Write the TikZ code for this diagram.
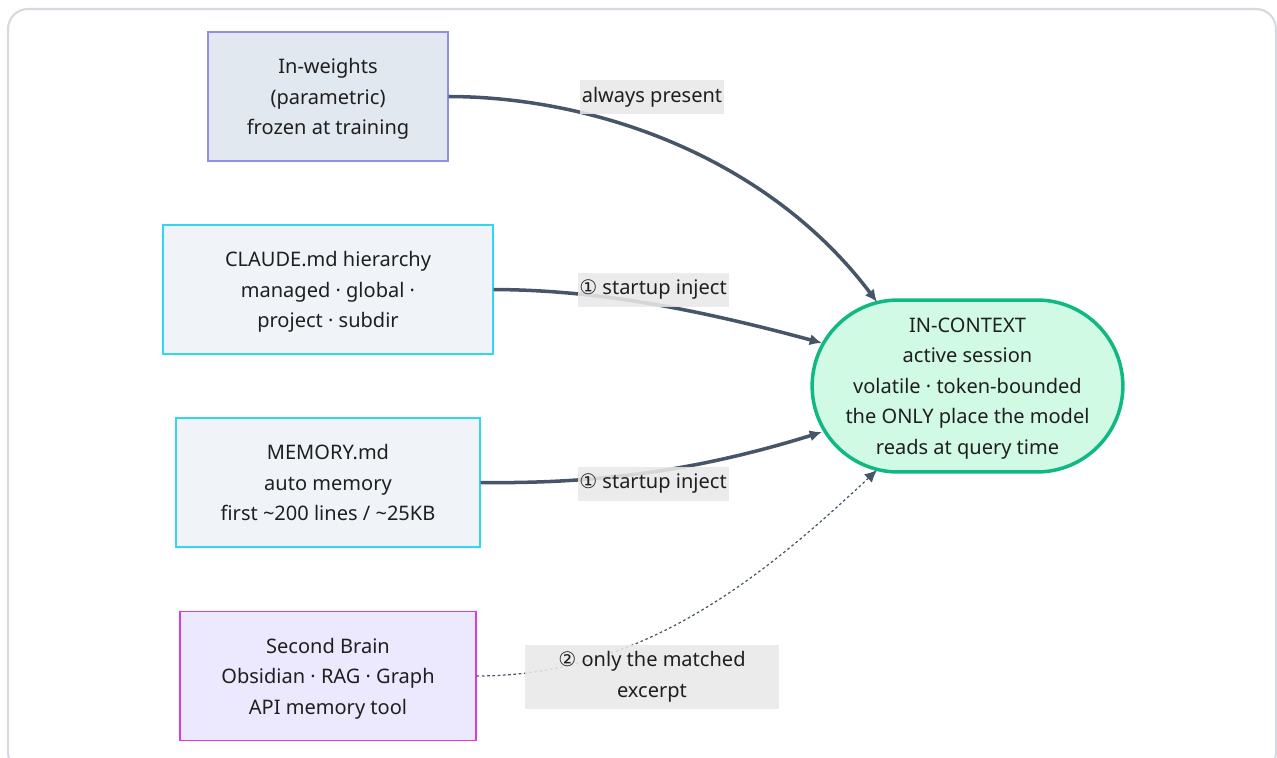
\documentclass[tikz,border=0pt]{standalone}
\usepackage{fontspec}
\setmainfont{Noto Sans}
\newfontfamily\circfont{DejaVu Sans}
\usetikzlibrary{arrows.meta,shapes.misc,calc}
\definecolor{edgec}{HTML}{475569}
\definecolor{txt}{HTML}{1F1F1F}
\definecolor{framec}{HTML}{D5D9E0}
\definecolor{inwfill}{HTML}{E2E8F0}
\definecolor{inwline}{HTML}{8F8FE8}
\definecolor{mdfill}{HTML}{F0F4F9}
\definecolor{mdline}{HTML}{30D6F2}
\definecolor{sbfill}{HTML}{ECE8FD}
\definecolor{sbline}{HTML}{D83BE6}
\definecolor{ctxfill}{HTML}{D1FAE5}
\definecolor{ctxline}{HTML}{10B981}
\definecolor{lblbg}{HTML}{E8E8E8}
\newcommand{\circnum}[1]{{\circfont #1}}

\begin{document}
\begin{tikzpicture}[x=0.02cm, y=-0.02cm, >={Latex[length=7pt,width=6.5pt]},
    font=\fontsize{11.4}{17.4}\selectfont,
    box/.style={draw, line width=0.7pt, align=center, minimum height=2.58cm, text=txt, text depth=0pt},
    lbl/.style={fill=lblbg, fill opacity=0.88, text opacity=1, inner xsep=1pt, inner ysep=4pt, text=txt},
    feed/.style={->, edgec, line width=2pt}]
  \useasboundingbox (0,0) rectangle (1277,757);
  \clip (0,0) rectangle (1277,757);
  % Rahmen
  \draw[framec, line width=1.2pt, rounded corners=0.4cm] (8,9) rectangle (1276,772);
  % Quellen
  \node[box, fill=inwfill, draw=inwline, minimum width=4.8cm] (inw) at (328,96.5)
      {In-weights\\(parametric)\\frozen at training};
  \node[box, fill=mdfill, draw=mdline, minimum width=6.6cm] (claude) at (328,289.5)
      {CLAUDE.md hierarchy\\managed · global ·\\project · subdir};
  \node[box, fill=mdfill, draw=mdline, minimum width=6.08cm] (memory) at (328,482.5)
      {MEMORY.md\\auto memory\\first \textasciitilde200 lines / \textasciitilde25KB};
  \node[box, fill=sbfill, draw=sbline, minimum width=5.92cm] (brain) at (328,676)
      {Second Brain\\Obsidian · RAG · Graph\\API memory tool};
  % Kontext
  \node[rounded rectangle, draw=ctxline, fill=ctxfill, line width=2pt, align=center, text=txt,
      text depth=-1pt, inner xsep=-0.3pt, minimum height=3.44cm] (ctx) at (967.5,386)
      {IN-CONTEXT\\active session\\volatile · token-bounded\\the ONLY place the model\\reads at query time};
  % Verbindungen
  \draw[feed] (inw.east) .. controls (600,97) and (770,160) .. ($(ctx.center)+(-90.5,-84)$);
  \draw[feed] (claude.east) .. controls (600,290) and (700,310) .. ($(ctx.center)+(-145.5,-43)$);
  \draw[feed] (memory.east) .. controls (600,484) and (700,470) .. ($(ctx.center)+(-145.5,46)$);
  \draw[->, edgec, line width=0.7pt, dash pattern=on 1.5pt off 1.5pt]
      (brain.east) .. controls (640,676) and (760,580) .. ($(ctx.center)+(-90.5,84)$);
  % Beschriftungen
  \node[lbl] (always) at (652,97) {always present};
  \node[lbl] (inject1) at (653,290) {\circnum{①} startup inject};
  \node[lbl] (inject2) at (653,484) {\circnum{①} startup inject};
  \node[lbl, align=center, minimum width=5.1cm, minimum height=1.22cm] (excerpt) at (652,677)
      {\circnum{②} only the matched\\excerpt};
\end{tikzpicture}
\end{document}
